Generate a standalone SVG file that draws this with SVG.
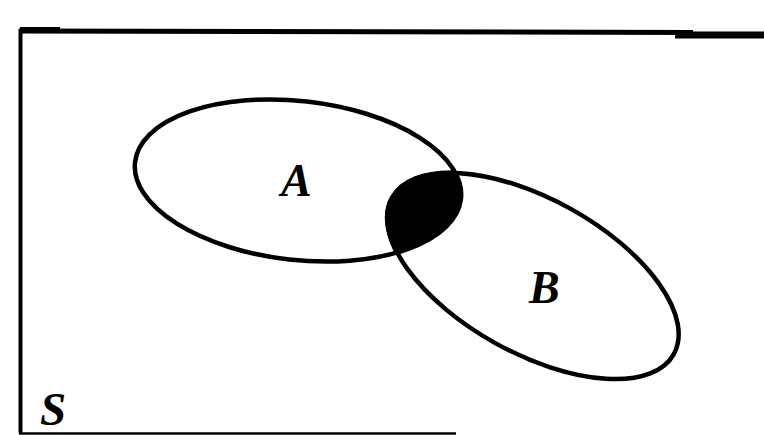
<svg xmlns="http://www.w3.org/2000/svg" width="764" height="435" viewBox="0 0 764 435">
<style>
.frame{fill:none;stroke:#000;stroke-linecap:butt}
.set{fill:none;stroke:#000;stroke-width:4.5}
.lbl{font-family:"Liberation Serif","Times New Roman",serif;font-style:italic;font-weight:bold;fill:#000}
</style>
<defs>
<clipPath id="clipA" clipPathUnits="userSpaceOnUse"><ellipse cx="298" cy="180.5" rx="164" ry="79.5" transform="rotate(6.4 298 180.5)"/></clipPath>
</defs>
<rect width="764" height="435" fill="#fff"/>
<g id="S">
<path class="frame" d="M20.5 29 V433" stroke-width="4"/>
<path class="frame" d="M19 31 L693 32.5" stroke-width="5"/>
<path class="frame" d="M20 29.5 H60" stroke-width="5"/>
<path class="frame" d="M675 35 H764" stroke-width="7"/>
<path class="frame" d="M19 433.5 H456" stroke-width="2.5"/>
<text class="lbl" x="40" y="424.5" font-size="47">S</text>
</g>
<g id="intersection">
<g clip-path="url(#clipA)">
<ellipse cx="533" cy="276" rx="161" ry="77" transform="rotate(29 533 276)" fill="#000" stroke="#000" stroke-width="5"/>
</g>
</g>
<g id="A">
<ellipse class="set" cx="298" cy="180.5" rx="164" ry="79.5" transform="rotate(6.4 298 180.5)"/>
<text class="lbl" x="281" y="196" font-size="46">A</text>
</g>
<g id="B">
<ellipse class="set" cx="533" cy="276" rx="161" ry="77" transform="rotate(29 533 276)"/>
<text class="lbl" x="529" y="303" font-size="46">B</text>
</g>
</svg>
